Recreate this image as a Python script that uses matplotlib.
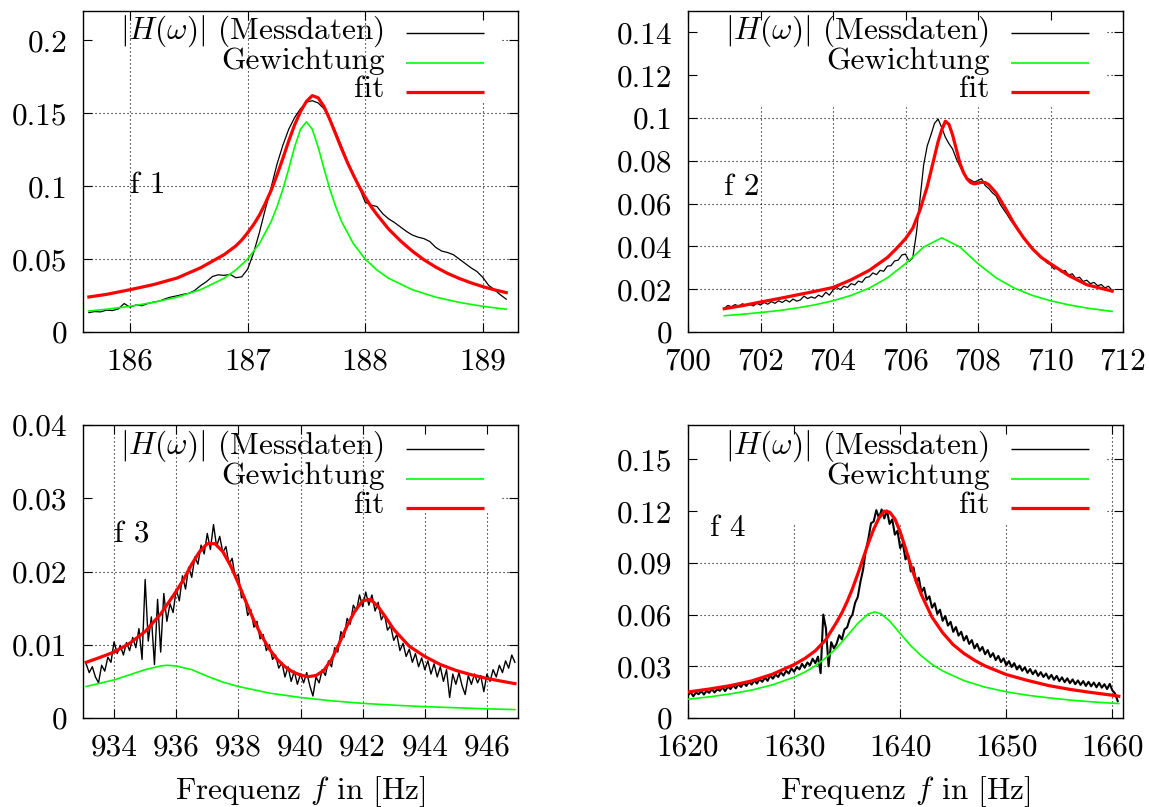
import numpy as np
import matplotlib
matplotlib.use("Agg")
import matplotlib.pyplot as plt

plt.rcParams["font.family"] = "cmr10"
plt.rcParams["mathtext.fontset"] = "cm"
plt.rcParams["axes.formatter.use_mathtext"] = True
plt.rcParams["font.size"] = 22.5

# ---------------- data ----------------
# f 1
f1_meas = [0.0133, 0.0140, 0.0138, 0.0150, 0.0147, 0.0158, 0.0195,
           0.0170, 0.0185, 0.0180, 0.0195, 0.0205, 0.0212, 0.0228, 0.0240, 0.0248, 0.0258,
           0.0265, 0.0285, 0.0318, 0.0345, 0.0380, 0.0392, 0.0388, 0.0395, 0.0372, 0.0378,
           0.0430, 0.0540, 0.0680, 0.0840, 0.0990, 0.1150, 0.1280, 0.1390, 0.1470, 0.1530,
           0.1575, 0.1585, 0.1570, 0.1530, 0.1460, 0.1370, 0.1270, 0.1170, 0.1080, 0.0990,
           0.0890, 0.0870, 0.0860, 0.0810, 0.0775, 0.0750, 0.0720, 0.0690, 0.0665, 0.0650,
           0.0640, 0.0620, 0.0580, 0.0555, 0.0545, 0.0530, 0.0500, 0.0470, 0.0440, 0.0415,
           0.0375, 0.0320, 0.0290, 0.0255, 0.0225]
f1_meas_x = np.linspace(185.65, 189.20, len(f1_meas))
f1_weight_x = [185.65, 185.8, 186.0, 186.2, 186.4, 186.6, 186.8, 186.9, 187.0, 187.1,
               187.2, 187.25, 187.3, 187.35, 187.4, 187.45, 187.5, 187.55, 187.6, 187.65,
               187.7, 187.75, 187.8, 187.9, 188.0, 188.1, 188.2, 188.4, 188.6, 188.8,
               189.0, 189.2]
f1_weight = [0.0144, 0.0156, 0.0176, 0.0203, 0.0239, 0.0290, 0.0368, 0.0425, 0.0500, 0.0605,
             0.0756, 0.0858, 0.0978, 0.1119, 0.1268, 0.1390, 0.1440, 0.1390, 0.1268, 0.1119,
             0.0978, 0.0858, 0.0756, 0.0605, 0.0500, 0.0425, 0.0368, 0.0290, 0.0239, 0.0203,
             0.0176, 0.0156]
f1_fit_x = [185.65, 185.8, 186.0, 186.2, 186.4, 186.6, 186.8, 186.9, 186.95,
            187.0, 187.05, 187.1, 187.15, 187.2, 187.25, 187.3, 187.35, 187.4, 187.45,
            187.5, 187.55, 187.6, 187.65, 187.7, 187.75, 187.8, 187.85, 187.9, 187.95,
            188.0, 188.05, 188.1, 188.2, 188.3, 188.4, 188.5, 188.6, 188.7, 188.8,
            188.9, 189.0, 189.1, 189.2]
f1_fit = [0.0240, 0.0258, 0.0290, 0.0325, 0.0370, 0.0440, 0.0530, 0.0590, 0.0630,
          0.0680, 0.0735, 0.0800, 0.0880, 0.0970, 0.1075, 0.1190, 0.1310, 0.1420, 0.1510,
          0.1580, 0.1620, 0.1605, 0.1545, 0.1455, 0.1355, 0.1255, 0.1160, 0.1075, 0.0995,
          0.0925, 0.0860, 0.0805, 0.0705, 0.0625, 0.0555, 0.0495, 0.0445, 0.0402, 0.0367,
          0.0337, 0.0311, 0.0289, 0.0270]

# f 2 (values in 1e-3)
f2_meas_milli = [11.0, 12.4, 11.8, 12.8, 12.0, 13.2, 12.4, 13.0, 12.2, 13.4,
                 12.6, 13.8, 13.0, 14.2, 13.4, 14.6, 13.8, 15.0, 14.0, 15.4,
                 14.4, 15.0, 16.8, 15.6, 16.4, 15.8, 17.2, 16.4, 18.6, 17.2,
                 19.6, 20.8, 19.8, 21.4, 20.8, 22.6, 22.0, 23.8, 23.2, 25.4,
                 25.8, 27.6, 26.8, 28.8, 28.4, 30.8, 31.0, 33.2, 33.6, 36.0,
                 36.4, 33.0, 34.6, 46.0, 62.0, 78.0, 87.0, 92.0, 97.5, 99.5,
                 95.5, 91.0, 88.0, 85.5, 81.0, 77.5, 74.0, 72.0, 71.0, 70.0,
                 70.8, 71.6, 68.4, 67.0, 65.0, 63.6, 60.0, 57.4, 55.0, 52.2,
                 50.0, 47.4, 45.6, 43.0, 41.2, 39.0, 37.4, 35.2, 34.0, 32.4,
                 31.4, 29.4, 30.0, 28.0, 28.8, 26.6, 27.2, 25.0, 25.6, 23.6,
                 24.2, 22.6, 23.2, 21.6, 22.2, 20.6, 21.4, 19.4]
f2_meas_x = np.linspace(701.0, 711.7, len(f2_meas_milli))
f2_weight_x = [701.0, 701.5, 702.0, 702.5, 703.0, 703.5, 704.0, 704.5, 705.0, 705.5,
               706.0, 706.5, 707.0, 707.5, 708.0, 708.5, 709.0, 709.5, 710.0, 710.5,
               711.0, 711.7]
f2_weight_milli = [7.6, 8.3, 9.1, 10.0, 11.2, 12.7, 14.6, 17.1, 20.5, 25.3,
                   31.9, 39.7, 44.0, 39.7, 31.9, 25.3, 20.5, 17.1, 14.6, 12.7,
                   11.2, 9.6]
f2_fit_x = [701.0, 701.5, 702.0, 702.5, 703.0, 703.5, 704.0, 704.5, 705.0, 705.5,
            705.75, 706.0, 706.2, 706.4, 706.6, 706.8, 706.9, 707.0, 707.1, 707.2,
            707.3, 707.4, 707.5, 707.6, 707.7, 707.8, 707.9, 708.0, 708.1, 708.2,
            708.3, 708.5, 708.75, 709.0, 709.25, 709.5, 709.75, 710.0, 710.5, 711.0,
            711.7]
f2_fit_milli = [10.9, 12.3, 14.0, 15.6, 17.3, 19.0, 20.8, 24.4, 28.8, 34.8,
                39.0, 43.6, 48.5, 57.0, 68.0, 82.0, 89.0, 94.5, 98.5, 97.0,
                92.0, 85.5, 79.0, 74.5, 71.5, 69.8, 69.2, 69.6, 70.0, 69.8,
                68.8, 65.0, 58.0, 50.5, 44.2, 38.9, 34.8, 31.9, 26.4, 22.1,
                19.1]

# f 3 (values in 1e-3)
f3_meas_milli = [7.4, 6.2, 7.0, 5.6, 4.8, 7.2, 6.4, 8.3, 7.6,
                 10.4, 8.8, 9.9, 8.6, 10.3, 9.2, 11.0, 9.6, 12.2, 8.0,
                 18.9, 10.5, 13.8, 7.3, 16.2, 9.0, 17.0, 13.2, 15.6, 14.4,
                 17.6, 16.0, 19.4, 17.6, 20.6, 19.2, 22.0, 21.0, 23.6, 22.4,
                 25.2, 23.0, 26.4, 23.4, 24.8, 22.6, 23.4, 21.0, 21.8, 19.2,
                 19.6, 16.4, 16.6, 14.0, 14.8, 12.4, 13.2, 10.8, 11.4, 9.2,
                 10.0, 8.0, 8.6, 6.8, 7.6, 5.6, 7.0, 5.0, 6.4, 4.6,
                 6.0, 4.8, 6.2, 4.4, 3.0, 5.6, 4.8, 6.6, 5.8, 7.8,
                 7.0, 9.6, 9.0, 11.8, 11.0, 13.6, 12.8, 15.4, 14.6, 16.8,
                 15.2, 17.2, 15.4, 16.8, 14.6, 15.8, 13.4, 14.2, 12.0, 12.6,
                 10.6, 11.4, 9.2, 10.2, 8.4, 9.4, 7.6, 8.8, 7.0, 8.2,
                 6.6, 7.8, 6.0, 7.4, 5.6, 7.0, 5.0, 6.6, 2.8, 6.0,
                 4.6, 6.2, 4.4, 3.2, 5.8, 4.6, 6.0, 4.8, 5.8, 3.6,
                 6.0, 5.0, 6.6, 5.6, 7.2, 6.2, 7.8, 6.8, 8.6, 7.6]
f3_meas_x = np.linspace(933.1, 946.9, len(f3_meas_milli))
f3_weight_x = [933.1, 933.5, 934.0, 934.5, 935.0, 935.5, 935.7, 936.0, 936.5, 937.0,
               937.5, 938.0, 939.0, 940.0, 941.0, 942.0, 943.0, 944.0, 945.0, 946.0,
               946.9]
f3_weight_milli = [4.3, 4.7, 5.2, 5.9, 6.6, 7.1, 7.2, 7.1, 6.6, 5.7,
                   4.9, 4.3, 3.4, 2.8, 2.35, 2.0, 1.75, 1.55, 1.4, 1.25,
                   1.15]
f3_fit_x = [933.1, 933.5, 934.0, 934.5, 935.0, 935.5, 936.0, 936.25, 936.5, 936.75,
            937.0, 937.25, 937.5, 937.75, 938.0, 938.25, 938.5, 938.75, 939.0, 939.25,
            939.5, 939.75, 940.0, 940.25, 940.5, 940.75, 941.0, 941.25, 941.5, 941.75,
            942.0, 942.25, 942.5, 942.75, 943.0, 943.5, 944.0, 944.5, 945.0, 945.5,
            946.0, 946.5, 946.9]
f3_fit_milli = [7.6, 8.2, 9.0, 10.2, 11.8, 14.2, 17.3, 19.0, 21.0, 22.7,
                23.8, 23.8, 22.7, 20.8, 18.4, 15.8, 13.3, 11.2, 9.4, 8.0,
                7.0, 6.3, 5.85, 5.65, 5.8, 6.5, 8.0, 10.2, 12.6, 14.6,
                16.0, 16.2, 15.2, 13.7, 12.1, 9.8, 8.4, 7.3, 6.5, 5.9,
                5.4, 5.0, 4.7]

# f 4 (values in 1e-3)
f4_meas_milli = [13.2, 15.0, 12.6, 14.8, 13.8, 15.6, 13.6, 15.8,
                 14.6, 16.8, 14.8, 16.6, 15.8, 17.8, 15.6, 18.2,
                 16.8, 19.0, 17.2, 19.6, 18.0, 20.4, 18.6, 21.0,
                 19.4, 21.8, 20.0, 22.6, 21.0, 23.4, 21.6, 24.6,
                 22.8, 25.2, 23.8, 26.6, 24.6, 27.4, 25.8, 28.8,
                 26.8, 29.6, 28.2, 31.4, 29.2, 32.2, 30.6, 34.4,
                 31.8, 35.6, 26.0, 60.0, 52.0, 30.0, 44.0, 40.4,
                 43.0, 48.0, 45.6, 51.4, 52.6, 57.6, 60.0, 66.8,
                 70.2, 79.0, 86.0, 97.0, 104.0, 113.0, 114.0, 120.6,
                 116.0, 121.0, 115.8, 120.4, 112.6, 115.2, 106.4, 108.6,
                 98.6, 101.4, 92.0, 94.6, 85.0, 87.4, 78.6, 81.4,
                 73.0, 75.6, 68.6, 70.6, 64.0, 66.6, 60.4, 62.8,
                 56.4, 59.2, 53.6, 55.8, 50.0, 52.8, 47.8, 50.0,
                 45.0, 47.6, 43.0, 45.2, 40.4, 43.0, 39.0, 41.2,
                 37.0, 39.4, 35.4, 37.6, 33.6, 36.0, 32.4, 34.6,
                 30.6, 33.0, 29.6, 31.8, 28.2, 30.4, 27.4, 29.4,
                 26.2, 28.4, 25.4, 27.6, 24.4, 26.6, 23.8, 25.8,
                 22.8, 25.0, 22.2, 24.4, 21.4, 23.6, 20.8, 23.0,
                 20.2, 22.4, 19.6, 21.8, 19.2, 21.4, 18.6, 21.0,
                 18.4, 20.6, 17.8, 20.4, 17.6, 19.6, 16.8, 19.8,
                 16.0, 14.2, 9.8]
f4_meas_x = np.linspace(1620.0, 1660.5, len(f4_meas_milli))
f4_weight_x = [1620, 1622, 1624, 1626, 1628, 1630, 1631, 1632, 1633, 1634,
               1635, 1636, 1637, 1637.6, 1638.2, 1639, 1640, 1641, 1642, 1643,
               1644, 1646, 1648, 1650, 1652, 1654, 1656, 1658, 1660, 1660.6]
f4_weight_milli = [10.9, 12.25, 13.96, 16.2, 19.3, 23.7, 26.6, 30.3, 34.9, 40.6,
                   47.6, 54.9, 60.4, 61.5, 60.4, 56.3, 49.0, 41.9, 36.0, 31.1,
                   27.3, 21.7, 17.9, 15.2, 13.2, 11.7, 10.4, 9.4, 8.6, 8.4]
f4_fit_x = [1620, 1622, 1624, 1626, 1628, 1630, 1631, 1632, 1633, 1634,
            1634.5, 1635, 1635.5, 1636, 1636.5, 1637, 1637.5, 1638, 1638.5, 1639,
            1639.5, 1640, 1640.5, 1641, 1641.5, 1642, 1643, 1644, 1645, 1646,
            1647, 1648, 1650, 1652, 1654, 1656, 1658, 1660, 1660.6]
f4_fit_milli = [15.1, 16.8, 18.8, 21.5, 25.5, 31.0, 34.5, 39.0, 45.5, 55.5,
                61.0, 67.5, 75.0, 83.5, 92.5, 101.5, 109.5, 116.0, 120.0, 119.5,
                115.5, 108.0, 98.5, 88.5, 79.5, 71.5, 58.5, 49.5, 42.5, 37.5,
                33.5, 30.2, 25.2, 21.8, 18.8, 16.6, 14.8, 13.2, 12.6]

# axis ticks and labels
f1_xticks = [186, 187, 188, 189]
f1_yticks = [0, 0.05, 0.1, 0.15, 0.2]
f1_ylabels = ["0", "0.05", "0.1", "0.15", "0.2"]
f2_xticks = [700, 702, 704, 706, 708, 710, 712]
f2_yticks = [0, 0.02, 0.04, 0.06, 0.08, 0.1, 0.12, 0.14]
f2_ylabels = ["0", "0.02", "0.04", "0.06", "0.08", "0.1", "0.12", "0.14"]
f3_xticks = [934, 936, 938, 940, 942, 944, 946]
f3_yticks = [0, 0.01, 0.02, 0.03, 0.04]
f3_ylabels = ["0", "0.01", "0.02", "0.03", "0.04"]
f4_xticks = [1620, 1630, 1640, 1650, 1660]
f4_yticks = [0, 0.03, 0.06, 0.09, 0.12, 0.15]
f4_ylabels = ["0", "0.03", "0.06", "0.09", "0.12", "0.15"]

legend_labels = [r"$|H(\omega)|$ (Messdaten)", "Gewichtung", "fit"]
xlabel = r"Frequenz $f$ in [Hz]"

# ---------------- plotting ----------------
fig = plt.figure(figsize=(11.49, 8.07), dpi=100)

W, H = 1149.0, 807.0


def make_axes(left, top, right, bottom):
    return fig.add_axes([left / W, 1 - bottom / H, (right - left) / W, (bottom - top) / H])


def draw_grid(ax, xticks, yticks, key_left, key_bottom, key_right=0.963):
    # gnuplot leaves the grid out where it would cross the key
    x0, x1 = ax.get_xlim()
    y0, y1 = ax.get_ylim()
    style = dict(color="black", lw=0.8, linestyle=(0, (1, 2.6)), zorder=0.5)
    for xv in xticks:
        if xv <= x0 or xv >= x1:
            continue
        frac = (xv - x0) / (x1 - x0)
        top = key_bottom if key_left <= frac <= key_right else 1.0
        ax.axvline(xv, ymin=0, ymax=top, **style)
    for yv in yticks:
        if yv <= y0 or yv >= y1:
            continue
        frac = (yv - y0) / (y1 - y0)
        start = key_right if frac >= key_bottom else 0.0
        ax.axhline(yv, xmin=start, xmax=1, **style)


def draw_key(ax, rows):
    colors = ["black", "#00ff00", "red"]
    widths = [1.0, 1.2, 2.3]
    for label, row, c, lw in zip(legend_labels, rows, colors, widths):
        ax.plot([0.742, 0.921], [row, row], color=c, lw=lw, transform=ax.transAxes,
                solid_capstyle="butt")
        ax.annotate(label, xy=(0.693, row), xycoords="axes fraction",
                    xytext=(0, -3.8), textcoords="offset points",
                    ha="right", va="baseline")


panels = [
    dict(box=(83, 11, 518, 332), xlim=(185.6, 189.3), ylim=(0, 0.22),
         mx=f1_meas_x, my=np.array(f1_meas),
         wx=f1_weight_x, wy=np.array(f1_weight),
         fx=f1_fit_x, fy=np.array(f1_fit),
         xticks=f1_xticks, yticks=f1_yticks, ylabels=f1_ylabels,
         name="f 1", name_pos=(186.0, 0.095), meas_lw=0.9,
         key_left=0.74, key_bottom=0.72, rows=[0.930, 0.837, 0.747], xlabel=False),
    dict(box=(688, 11, 1123, 332), xlim=(700, 712), ylim=(0, 0.15),
         mx=f2_meas_x, my=np.array(f2_meas_milli) / 1000,
         wx=f2_weight_x, wy=np.array(f2_weight_milli) / 1000,
         fx=f2_fit_x, fy=np.array(f2_fit_milli) / 1000,
         xticks=f2_xticks, yticks=f2_yticks, ylabels=f2_ylabels,
         name="f 2", name_pos=(701.0, 0.064), meas_lw=0.9,
         key_left=0.08, key_bottom=0.70, rows=[0.930, 0.837, 0.747], xlabel=False),
    dict(box=(83, 425, 518, 718), xlim=(933, 947), ylim=(0, 0.04),
         mx=f3_meas_x, my=np.array(f3_meas_milli) / 1000,
         wx=f3_weight_x, wy=np.array(f3_weight_milli) / 1000,
         fx=f3_fit_x, fy=np.array(f3_fit_milli) / 1000,
         xticks=f3_xticks, yticks=f3_yticks, ylabels=f3_ylabels,
         name="f 3", name_pos=(934.0, 0.024), meas_lw=1.0,
         key_left=0.74, key_bottom=0.71, rows=[0.919, 0.817, 0.718], xlabel=True),
    dict(box=(688, 425, 1123, 718), xlim=(1620, 1661), ylim=(0, 0.17),
         mx=f4_meas_x, my=np.array(f4_meas_milli) / 1000,
         wx=f4_weight_x, wy=np.array(f4_weight_milli) / 1000,
         fx=f4_fit_x, fy=np.array(f4_fit_milli) / 1000,
         xticks=f4_xticks, yticks=f4_yticks, ylabels=f4_ylabels,
         name="f 4", name_pos=(1622.1, 0.1055), meas_lw=1.5,
         key_left=0.08, key_bottom=0.668, rows=[0.919, 0.817, 0.718], xlabel=True),
]

for p in panels:
    ax = make_axes(*p["box"])
    ax.plot(p["mx"], p["my"], color="black", lw=p["meas_lw"], zorder=2)
    ax.plot(p["wx"], p["wy"], color="#00ff00", lw=1.2, zorder=3)
    ax.plot(p["fx"], p["fy"], color="red", lw=2.3, zorder=4)

    ax.set_xlim(*p["xlim"])
    ax.set_ylim(*p["ylim"])
    ax.set_xticks(p["xticks"], [str(t) for t in p["xticks"]])
    ax.set_yticks(p["yticks"], p["ylabels"])
    ax.tick_params(direction="in", length=6.5, width=0.8, top=True, right=True)
    ax.tick_params(axis="x", pad=11)
    ax.tick_params(axis="y", pad=11)
    for s in ax.spines.values():
        s.set_linewidth(1.0)

    draw_grid(ax, p["xticks"], p["yticks"], p["key_left"], p["key_bottom"])
    draw_key(ax, p["rows"])
    ax.text(p["name_pos"][0], p["name_pos"][1], p["name"], ha="left", va="baseline")

    if p["xlabel"]:
        ax.set_xlabel(xlabel)
        ax.xaxis.set_label_coords(0.5, -0.275)
        ax.xaxis.label.set_va("baseline")

fig.savefig("out.png", dpi=100)
